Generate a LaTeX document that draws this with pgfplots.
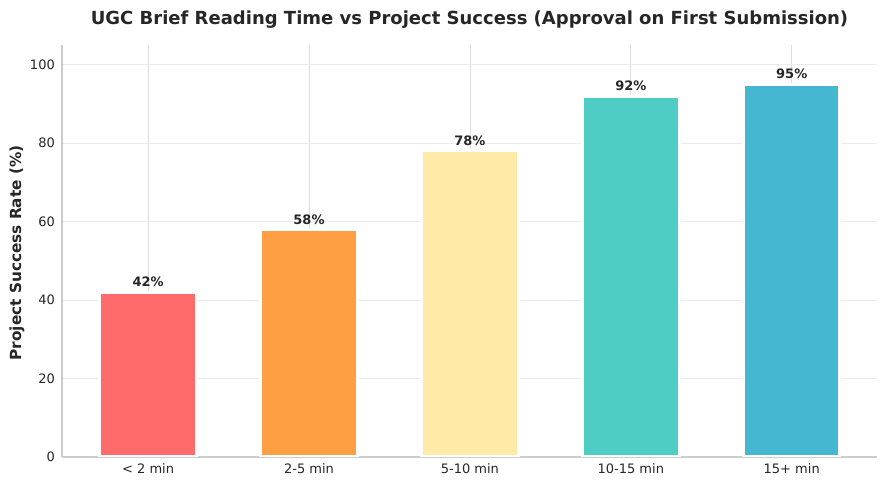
\documentclass[border=0pt]{standalone}
\usepackage{pgfplots}
\pgfplotsset{compat=1.18}
\usepackage{fontspec}
\setmainfont{DejaVu Sans}
\definecolor{txt}{HTML}{262626}
\definecolor{c1}{HTML}{FF6B6B}
\definecolor{c2}{HTML}{FF9F43}
\definecolor{c3}{HTML}{FFEAA7}
\definecolor{c4}{HTML}{4ECDC4}
\definecolor{c5}{HTML}{45B7D1}
\definecolor{spine}{HTML}{CCCCCC}
\definecolor{hgrid}{HTML}{EBEBEB}
\definecolor{vgrid}{HTML}{DDDDDD}
\pgfplotsset{
  layers/mylayers/.define layer set={axis background,axis grid,main,axis ticks,axis lines,axis tick labels,axis descriptions,axis foreground}{},
}
\begin{document}
\begin{tikzpicture}
\path (0pt,0pt) rectangle (887pt,486pt);
\begin{axis}[
  set layers=mylayers,
  at={(62pt,29pt)}, anchor=south west,
  width=815pt, height=412pt, scale only axis,
  xmin=-0.535, xmax=4.53, ymin=0, ymax=105,
  axis x line*=bottom, axis y line*=left,
  axis line style={-, draw=spine, line width=1.2pt},
  xtick={0,1,2,3,4},
  xticklabels={{< 2 min},{2-5 min},{5-10 min},{10-15 min},{15+ min}},
  ytick={0,20,40,60,80,100},
  major tick length=0pt,
  ymajorgrids, xmajorgrids,
  y grid style={draw=hgrid, line width=0.8pt},
  x grid style={draw=vgrid, line width=0.8pt},
  tick label style={font=\fontsize{13}{15}\selectfont, text=txt},
  yticklabel style={anchor=east, inner sep=0pt, xshift=-7pt},
  xticklabel style={anchor=base, inner sep=0pt, yshift=-17pt},
  /pgf/number format/assume math mode=true,
]
\addplot[ybar, bar width=0.6, fill=c1, draw=white, line width=3pt] coordinates {(0,42)};
\addplot[ybar, bar width=0.6, fill=c2, draw=white, line width=3pt] coordinates {(1,58)};
\addplot[ybar, bar width=0.6, fill=c3, draw=white, line width=3pt] coordinates {(2,78)};
\addplot[ybar, bar width=0.6, fill=c4, draw=white, line width=3pt] coordinates {(3,92)};
\addplot[ybar, bar width=0.6, fill=c5, draw=white, line width=3pt] coordinates {(4,95)};
\addplot[draw=none, mark=none,
  nodes near coords={\pgfmathprintnumber{\pgfplotspointmeta}\%},
  point meta=explicit,
  every node near coord/.style={anchor=base, inner sep=0pt, yshift=5.4pt, font=\fontsize{13}{15}\selectfont\bfseries, text=txt},
] table[meta index=2] {
x y m
0 42 42
1 58 58
2 78 78
3 92 92
4 95 95
};
\end{axis}
\node[anchor=base, text=txt, font=\fontsize{18}{22}\selectfont\bfseries, inner sep=0pt] at (469.5pt,461pt) {UGC Brief Reading Time vs Project Success (Approval on First Submission)};
\node[anchor=base, rotate=90, text=txt, font=\fontsize{15.3}{18}\selectfont\bfseries, inner sep=0pt] at (21pt,233pt) {Project Success Rate (\%)};
\end{tikzpicture}
\end{document}
